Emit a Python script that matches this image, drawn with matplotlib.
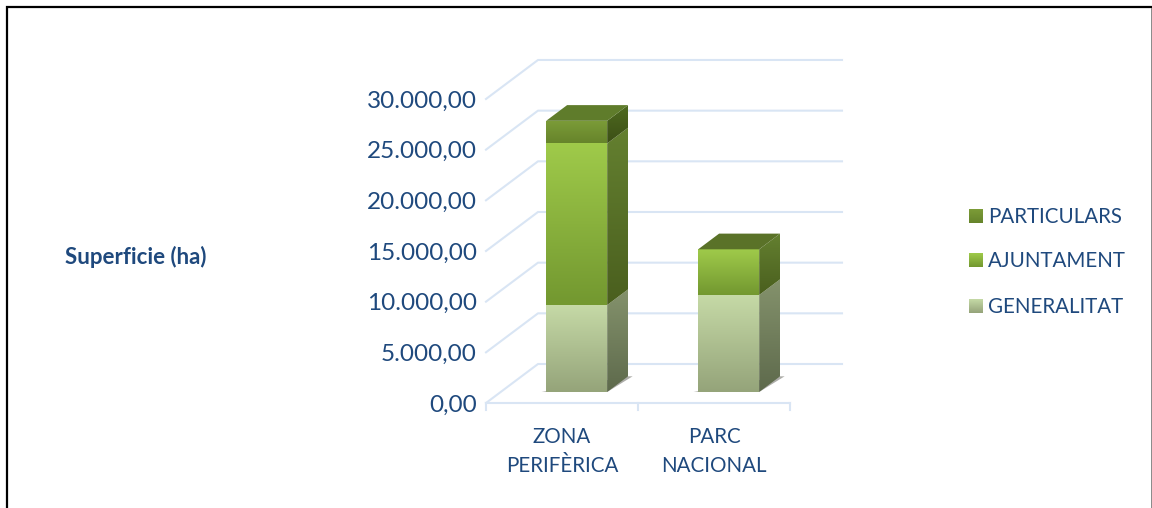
import numpy as np
import matplotlib
matplotlib.use('Agg')
import matplotlib.pyplot as plt
from matplotlib.colors import LinearSegmentedColormap
from matplotlib.patches import Polygon, Rectangle

plt.rcParams['font.family'] = ['Lato', 'DejaVu Sans']

categories = ['ZONA\nPERIFÈRICA', 'PARC\nNACIONAL']
series_names = ['GENERALITAT', 'AJUNTAMENT', 'PARTICULARS']
generalitat = [8580, 9570]
ajuntament = [15950, 4510]
particulars = [2230, 0]
yticks = [0, 5000, 10000, 15000, 20000, 25000, 30000]
ytick_labels = ['0,00', '5.000,00', '10.000,00', '15.000,00', '20.000,00', '25.000,00', '30.000,00']
y_title = 'Superficie (ha)'

TEXT = '#1F497D'
GRID = '#D9E5F4'
W, H = 1152, 508
# front colours (top, bottom), side colours (top, bottom)
front_cols = [('#C5D9A6', '#95A47A'), ('#9FCA4A', '#739830'), ('#7C9C38', '#66842B')]
side_cols = [('#84926C', '#5E6A4C'), ('#648030', '#4A5F1E'), ('#4F6B20', '#3C4F16')]
top_cols = ['#7C8C60', '#5A7228', '#5F7C2B']

fig = plt.figure(figsize=(W / 100, H / 100), dpi=100)
fig.patch.set_facecolor('white')

# outer frame
fig.add_artist(Rectangle((6.5 / W, -0.01), (W + 10) / W, 1.01 - 7 / H, transform=fig.transFigure,
                         fill=False, ec='black', lw=1.6))
fig.add_artist(Rectangle((1150.5 / W, 0), 1.5 / W, 1 - 8 / H, transform=fig.transFigure,
                         fc='#8C8C8C', ec='none'))

# front plane of the plot is 486-790 px wide, zero at y=403, 30000 at y=99
PX_X = 152.0        # px per category
PX_Y = 50.67 / 5000  # px per unit
DEPTH_X, DEPTH_Y = 52, 39  # wall offset in px
left, bottom = 486, 403
xmax = 2 + DEPTH_X / PX_X
ymax = 30000 + DEPTH_Y / PX_Y
top = bottom - ymax * PX_Y
ax = fig.add_axes([left / W, 1 - bottom / H, xmax * PX_X / W, (bottom - top) / H])
ax.set_xlim(0, xmax)
ax.set_ylim(0, ymax)
ax.axis('off')


def project(x, y, d):
    # d is depth from 0 (front) to 1 (back wall)
    return x + d * DEPTH_X / PX_X, y + d * DEPTH_Y / PX_Y


def shade(verts, c_top, c_bottom, z):
    verts = np.array(verts)
    cmap = LinearSegmentedColormap.from_list('c', [c_bottom, c_top])
    ext = [verts[:, 0].min(), verts[:, 0].max(), verts[:, 1].min(), verts[:, 1].max()]
    im = ax.imshow(np.linspace(1, 0, 64).reshape(-1, 1), cmap=cmap, extent=ext, aspect='auto',
                   vmin=0, vmax=1, zorder=z, interpolation='bilinear')
    poly = Polygon(verts, transform=ax.transData, fc='none', ec='none')
    ax.add_patch(poly)
    im.set_clip_path(poly)
    ax.set_xlim(0, xmax)
    ax.set_ylim(0, ymax)


# wall gridlines
for t in yticks:
    x0, y0 = project(0, t, 0)
    x1, y1 = project(0, t, 1)
    ax.plot([x0, x1, 2 + DEPTH_X / PX_X], [y0, y1, y1], color=GRID, lw=1.5, zorder=1, clip_on=False)
# floor line and ticks
ax.plot([0, 2], [0, 0], color=GRID, lw=1.5, zorder=1, clip_on=False)
for c in range(3):
    ax.plot([c, c], [0, -7 / PX_Y], color=GRID, lw=1.5, zorder=1, clip_on=False)

# y tick labels and categories
for t, lab in zip(yticks, ytick_labels):
    ax.annotate(lab, (0, t), xytext=(-9, -2), textcoords='offset pixels', ha='right', va='center',
                fontsize=17.5, color=TEXT, annotation_clip=False)
for i, c in enumerate(categories):
    lines = c.split('\n')
    for j, s in enumerate(lines):
        ax.annotate(s, (i + 0.5, 0), xytext=(0, -34 - 29 * j), textcoords='offset pixels', ha='center',
                    va='center', fontsize=14.8, color=TEXT, annotation_clip=False)

# stacked 3d bars
D0, D1 = 11 / 39, 26.7 / 39
BAR = 61 / PX_X
for i in range(len(categories)):
    x0 = i + 0.5 - BAR / 2
    x1 = x0 + BAR
    # shadow on the floor
    ax.add_patch(Polygon([project(x0 - 0.03, 0, D0), project(x1, 0, D0), project(x1 + 0.03, 0, D1),
                          project(x1, 0, D1)], fc='#777770', ec='none', alpha=0.6, zorder=2))
    base = 0
    last_top = None
    for k, vals in enumerate([generalitat, ajuntament, particulars]):
        v = vals[i]
        if v <= 0:
            continue
        y0, y1 = base, base + v
        shade([project(x1, y1, D0), project(x1, y0, D0), project(x1, y0, D1), project(x1, y1, D1)],
              side_cols[k][0], side_cols[k][1], 3 + k)
        shade([project(x0, y1, D0), project(x1, y1, D0), project(x1, y0, D0), project(x0, y0, D0)],
              front_cols[k][0], front_cols[k][1], 3 + k)
        base = y1
        last_top = k
    ax.add_patch(Polygon([project(x0, base, D0), project(x1, base, D0), project(x1, base, D1),
                          project(x0, base, D1)], fc=top_cols[last_top], ec='none', zorder=8))

# y title
fig.text(65 / W, 1 - 257 / H, y_title, fontsize=16, fontweight='bold', color=TEXT, ha='left', va='center')

# legend
leg_y = [216, 260, 306]
for name, y, cols in zip(series_names[::-1], leg_y, front_cols[::-1]):
    lax = fig.add_axes([969 / W, 1 - (y + 7) / H, 14 / W, 14 / H])
    cmap = LinearSegmentedColormap.from_list('l', [cols[1], cols[0]])
    lax.imshow(np.linspace(1, 0, 32).reshape(-1, 1), cmap=cmap, aspect='auto', vmin=0, vmax=1)
    lax.axis('off')
    fig.text(988 / W, 1 - (y + 1) / H, name, fontsize=14.8, color=TEXT, ha='left', va='center')

fig.savefig('out.png', dpi=100)
